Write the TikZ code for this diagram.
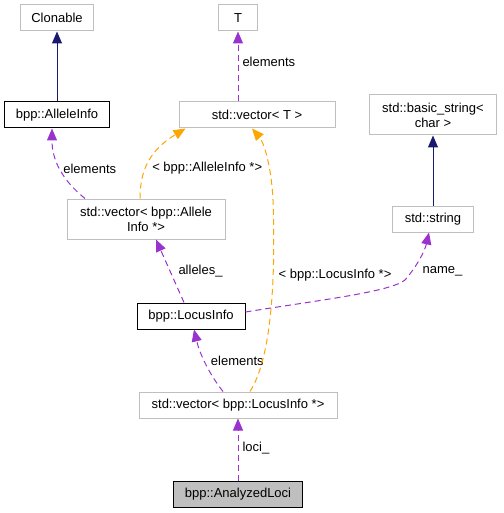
\documentclass[tikz,border=0pt]{standalone}
\usepackage{fontspec}
\setmainfont{Liberation Sans}
\usepackage{xcolor}
\usepackage{tikz}
\usetikzlibrary{arrows.meta,positioning}
\definecolor{edgepurple}{HTML}{9A32CD}
\definecolor{edgeorange}{HTML}{FFA500}
\definecolor{edgenavy}{HTML}{191970}
\definecolor{boxgray}{HTML}{BFBFBF}

\begin{document}
\begin{tikzpicture}[x=1pt,y=-1pt,>={Triangle[length=12pt,width=10pt]},font=\fontsize{13}{15}\selectfont,
 u/.style={draw=boxgray,line width=1pt,minimum height=26pt,inner sep=2pt,align=center},
 d/.style={u,draw=black},
 inh/.style={->,draw=edgenavy,line width=1pt},
 use/.style={->,draw=edgepurple,line width=1pt,dash pattern=on 6pt off 4pt},
 tpl/.style={->,draw=edgeorange,line width=1pt,dash pattern=on 6pt off 4pt},
 lbl/.style={inner sep=0pt,text=black}]
 \useasboundingbox (0,0) rectangle (503,513);
 \node[u,minimum width=73pt] (clonable) at (57,18) {Clonable};
 \node[d,minimum width=105pt] (alleleinfo) at (57,115) {bpp::AlleleInfo};
 \node[u,minimum width=39pt] (t) at (238,18) {T};
 \node[u,minimum width=156pt] (vect) at (257,115) {std::vector< T >};
 \node[u,minimum width=127pt,minimum height=40pt] (basicstr) at (433,115) {std::basic\_string<\\char >};
 \node[u,minimum width=81pt] (str) at (433,219) {std::string};
 \node[u,minimum width=158pt,minimum height=40pt] (vecallele) at (146,219) {std::vector< bpp::Allele\\Info *>};
 \node[d,minimum width=108pt] (locusinfo) at (191,316) {bpp::LocusInfo};
 \node[u,minimum width=198pt] (veclocus) at (238,405) {std::vector< bpp::LocusInfo *>};
 \node[d,fill=boxgray,minimum width=129pt] (loci) at (238,494) {bpp::AnalyzedLoci};
 % inheritance
 \draw[inh] (alleleinfo) -- (clonable);
 \draw[inh] (str) -- (basicstr);
 % usage
 \draw[use] (t |- vect.north) -- node[lbl,pos=0.56,right=4pt] {elements} (t);
 \draw[use] ([xshift=-61pt]vecallele.north) .. controls (62,180) and (52,160) .. node[lbl,pos=0.5,right=3pt] {elements} ([xshift=-5pt]alleleinfo.south);
 \draw[use] ([xshift=-7pt]locusinfo.north) -- node[lbl,pos=0.5,right=8pt] {alleles\_} ([xshift=10pt]vecallele.south);
 \draw[use] ([yshift=4pt]locusinfo.east) .. controls (320,300) and (390,292) .. (405,280) .. controls (418,265) and (425,250) .. node[lbl,pos=0.2,right=10pt] {name\_} ([xshift=-4pt]str.south);
 \draw[use] ([xshift=-15pt]veclocus.north) .. controls (210,375) and (200,355) .. node[lbl,pos=0.55,right=6pt] {elements} ([xshift=3pt]locusinfo.south);
 \draw[use] (loci) -- node[lbl,pos=0.52,right=4pt] {loci\_} (veclocus);
 % templates
 \draw[tpl] ([xshift=-6pt]vecallele.north) .. controls (140,170) and (150,150) .. node[lbl,pos=0.4,right=6pt] {< bpp::AlleleInfo *>} ([xshift=7pt]vect.south west);
 \draw[tpl] ([xshift=12pt]veclocus.north) .. controls (270,360) and (276,290) .. (273,200) node[lbl,pos=0.7,right=5pt] {< bpp::LocusInfo *>} .. controls (271,160) and (262,140) .. ([xshift=-5pt]vect.south);
\end{tikzpicture}
\end{document}
